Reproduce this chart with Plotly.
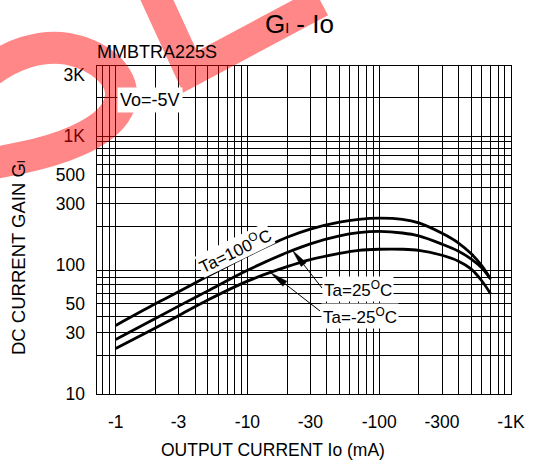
import numpy as np
import plotly.graph_objects as go

# ---- data -------------------------------------------------------------
current_ma = [1, 2, 3, 5, 10, 20, 30, 50, 70, 100, 150, 200, 300, 400, 500, 600, 700]
gain_ta100 = [34, 50, 62, 82, 118, 164, 190, 215, 226, 231, 226, 212, 176, 148, 122, 99, 78]
gain_ta25 = [26.5, 38.5, 48, 63, 91, 125, 146, 168, 178, 182, 177, 168, 145, 128, 111, 95, 78]
gain_tam25 = [22.5, 32.5, 40.5, 53.5, 75, 97, 110, 123, 130, 132.5, 132.5, 130, 119, 107, 93, 75.5, 60]

x_grid = [0.8, 0.9] + [m * 10 ** e for e in range(3) for m in range(1, 10)] + [1000]
x_labels = {1: "-1", 3: "-3", 10: "-10", 30: "-30", 100: "-100", 300: "-300", 1000: "-1K"}
y_grid = [m * 10 ** e for e in (1, 2) for m in range(2, 10)] + [1000, 2000]
y_label_vals = [10, 30, 50, 100, 300, 500, 1000, 3000]
y_label_text = ["10", "30", "50", "100", "300", "500", "1K", "3K"]

# ---- geometry ---------------------------------------------------------
W, H = 536, 461
ML, MR, MT, MB = 97, 25, 66, 67
PW, PH = W - ML - MR, H - MT - MB
XR = [-0.1419, 3.0005]
YR = [1.0, 3.5426]
FONT = "Arial, Liberation Sans, sans-serif"
INK = "#000000"


def px2paper(px, py):
    return (px - ML) / PW, (H - MB - py) / PH


def data2px(i_ma, gain):
    px = ML + (np.log10(i_ma) - XR[0]) / (XR[1] - XR[0]) * PW
    py = MT + (YR[1] - np.log10(gain)) / (YR[1] - YR[0]) * PH
    return px, py


def curve_at(i_ma, gains):
    lg = np.interp(np.log10(i_ma), np.log10(current_ma), np.log10(gains))
    return 10 ** lg


def path_from_px(cmds):
    out = []
    for c in cmds:
        if isinstance(c, str):
            out.append(c)
        else:
            x, y = px2paper(*c)
            out.append(f"{x:.5f},{y:.5f}")
    return " ".join(out)


fig = go.Figure()

for gains in (gain_ta100, gain_ta25, gain_tam25):
    fig.add_trace(go.Scatter(
        x=current_ma, y=gains, mode="lines",
        line=dict(color=INK, width=2.8, shape="spline", smoothing=0.9),
        showlegend=False, hoverinfo="skip"))

# label-only axis carrying the gain tick labels
fig.add_trace(go.Scatter(x=[None], y=[None], yaxis="y2", showlegend=False, hoverinfo="skip"))

fig.update_layout(
    width=W, height=H,
    margin=dict(l=ML, r=MR, t=MT, b=MB, pad=0, autoexpand=False),
    paper_bgcolor="white", plot_bgcolor="white",
    font=dict(family=FONT, color=INK),
    xaxis=dict(
        type="log", range=XR,
        tickmode="array", tickvals=x_grid,
        ticktext=[x_labels.get(round(v, 3) if v < 1 else int(v), "") for v in x_grid],
        tickfont=dict(size=17.5, family=FONT, color=INK),
        tickangle=0, ticks="", ticklabelstandoff=12,
        showgrid=True, gridcolor=INK, gridwidth=1,
        showline=True, linecolor=INK, linewidth=1, mirror=True,
        zeroline=False, automargin=False),
    yaxis=dict(
        type="log", range=YR,
        tickmode="array", tickvals=y_grid, showticklabels=False,
        ticks="", showgrid=True, gridcolor=INK, gridwidth=1,
        showline=True, linecolor=INK, linewidth=1, mirror=True,
        zeroline=False, automargin=False),
    yaxis2=dict(
        type="log", range=YR, overlaying="y", side="left",
        tickmode="array", tickvals=y_label_vals, ticktext=y_label_text,
        tickfont=dict(size=17.5, family=FONT, color=INK),
        tickangle=0, ticks="", ticklabelstandoff=11,
        showgrid=False, showline=False, zeroline=False, automargin=False),
)

annotations = []


def add_text(px, py, text, size, angle=0, bg=None, xanchor="center", pad=1):
    x, y = px2paper(px, py)
    annotations.append(dict(
        xref="paper", yref="paper", x=x, y=y, text=text, showarrow=False,
        xanchor=xanchor, yanchor="middle", textangle=angle,
        font=dict(size=size, family=FONT, color=INK),
        bgcolor=bg if bg else "rgba(0,0,0,0)", borderpad=pad))


add_text(299, 24, "G<span style='font-size:14px'>I</span> - Io", 26)
add_text(96, 52, "MMBTRA225S", 18, xanchor="left", pad=0)
add_text(150, 100, "Vo=-5V", 18, bg="white", pad=2)
add_text(18, 258, "DC CURRENT GAIN G<span style='font-size:11px'>I</span>", 18.5, angle=-90)
add_text(273, 450, "OUTPUT CURRENT Io (mA)", 17.5)
add_text(235, 250, "Ta=100<sup>O</sup>C", 17, angle=-26, bg="white", pad=0)
add_text(358, 289, "Ta=25<sup>O</sup>C", 17, bg="white", pad=1)
add_text(360, 316, "Ta=-25<sup>O</sup>C", 17, bg="white", pad=1)

shapes = []

# leader arrows from the temperature labels to their curves
for i_tip, gains, tail in ((22, gain_ta25, (322, 288)), (15, gain_tam25, (320, 311))):
    tip = data2px(i_tip, curve_at(i_tip, gains))
    dx, dy = tail[0] - tip[0], tail[1] - tip[1]
    n = np.hypot(dx, dy)
    ux, uy = dx / n, dy / n
    head_len, half_w = 18, 3.2
    base = (tip[0] + ux * head_len, tip[1] + uy * head_len)
    p1 = (base[0] - uy * half_w, base[1] + ux * half_w)
    p2 = (base[0] + uy * half_w, base[1] - ux * half_w)
    shapes.append(dict(type="path", xref="paper", yref="paper",
                       path=path_from_px(["M", base, "L", tail]),
                       line=dict(color=INK, width=1)))
    shapes.append(dict(type="path", xref="paper", yref="paper",
                       path=path_from_px(["M", tip, "L", p1, "L", p2, "Z"]),
                       fillcolor=INK, line=dict(color=INK, width=0.5)))

# red overlay strokes across the upper left corner
red = "rgba(255,0,0,0.47)"
shapes.append(dict(
    type="path", xref="paper", yref="paper", layer="above",
    path=path_from_px(["M", (-20, 80), "C", (5, 55), (45, 40), (80, 52),
                       "C", (112, 63), (132, 88), (115, 113),
                       "C", (100, 135), (60, 150), (20, 158), "L", (-20, 166)]),
    line=dict(color=red, width=32), fillcolor="rgba(0,0,0,0)"))
shapes.append(dict(
    type="path", xref="paper", yref="paper", layer="above",
    path=path_from_px(["M", (150, -15), "L", (190, 72), "L", (321, 2)]),
    line=dict(color=red, width=30), fillcolor="rgba(0,0,0,0)"))

fig.update_layout(annotations=annotations, shapes=shapes)
fig.write_html("out.html")
